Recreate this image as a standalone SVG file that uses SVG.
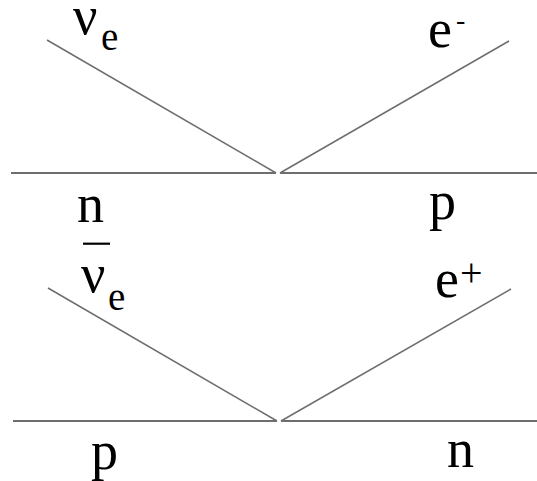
<svg xmlns="http://www.w3.org/2000/svg" width="537" height="481" viewBox="0 0 537 481">
<style>
text{font-family:"Liberation Serif","Times New Roman",serif;fill:#000}
.m{font-size:54px}
.s{font-size:39px}
.h{stroke:#6e6e6e;stroke-width:2;fill:none}
.d{stroke:#6e6e6e;stroke-width:1.5;fill:none}
.bar{stroke:#000;stroke-width:2.2}
</style>
<rect width="537" height="481" fill="#fff"/>
<g id="connectors">
<line class="h" x1="11" y1="173" x2="276" y2="173"/>
<line class="d" x1="47" y1="40" x2="276" y2="173"/>
<line class="h" x1="280" y1="173" x2="537" y2="173"/>
<line class="d" x1="280" y1="173" x2="509" y2="41"/>
<line class="h" x1="13" y1="421" x2="277" y2="421"/>
<line class="d" x1="48" y1="288" x2="277" y2="421"/>
<line class="h" x1="281" y1="421" x2="537" y2="421"/>
<line class="d" x1="281" y1="421" x2="511" y2="289"/>
</g>
<g id="nu-e">
<text class="m" x="73" y="34">ν</text><text class="s" x="101" y="50">e</text>
</g>
<g id="e-minus">
<text class="m" x="428" y="46.5">e</text><text style="font-size:28px" x="456" y="29">-</text>
</g>
<g id="n-top">
<text class="m" x="77" y="222">n</text>
</g>
<g id="p-top">
<text class="m" x="429" y="219">p</text>
</g>
<g id="nu-e-bar">
<line class="bar" x1="83" y1="243.7" x2="110" y2="243.7"/>
<text class="m" x="81" y="292">ν</text><text class="s" x="108" y="310">e</text>
</g>
<g id="e-plus">
<text class="m" x="435" y="296.5">e</text><text style="font-size:40px" x="460" y="286">+</text>
</g>
<g id="p-bottom">
<text class="m" x="91" y="469">p</text>
</g>
<g id="n-bottom">
<text class="m" x="447" y="467">n</text>
</g>
</svg>
